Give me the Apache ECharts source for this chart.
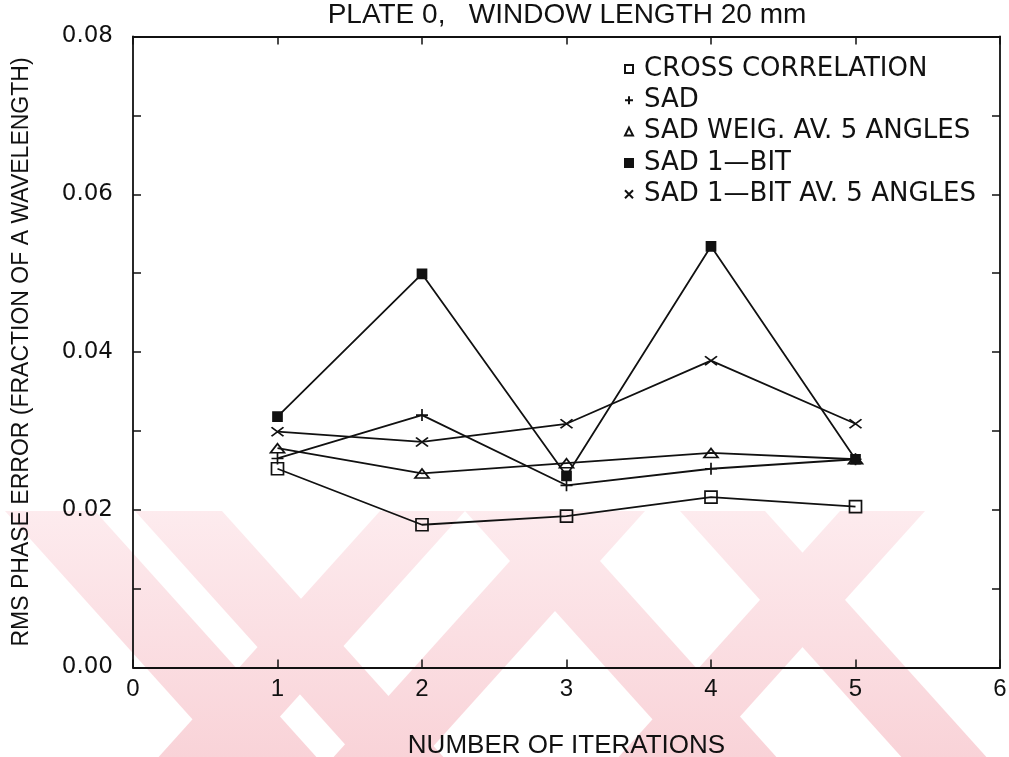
<!DOCTYPE html>
<html>
<head>
<meta charset="utf-8">
<script src="https://cdn.jsdelivr.net/npm/echarts@6/dist/echarts.min.js"></script>
<style>
  html, body { margin: 0; padding: 0; background: #fff; }
  #chart { width: 1009px; height: 757px; }
</style>
</head>
<body>
<div id="chart"></div>
<script>
// Iteration numbers on the x axis
const iterations = [1, 2, 3, 4, 5];

// RMS phase error (fraction of a wavelength) for each method
const crossCorrelation = [0.0252, 0.0181, 0.0192, 0.0216, 0.0204];
const sad              = [0.0265, 0.0320, 0.0231, 0.0252, 0.0264];
const sadWeighted5     = [0.0278, 0.0246, 0.0259, 0.0272, 0.0264];
const sad1Bit          = [0.0318, 0.0499, 0.0243, 0.0534, 0.0264];
const sad1Bit5         = [0.0299, 0.0286, 0.0309, 0.0389, 0.0309];

const seriesNames = [
  'CROSS CORRELATION',
  'SAD',
  'SAD WEIG. AV. 5 ANGLES',
  'SAD 1\u2014BIT',
  'SAD 1\u2014BIT AV. 5 ANGLES'
];

// Axis ranges and tick steps
const xRange = [0, 6];
const xStep = 1;
const yRange = [0, 0.08];
const yStep = 0.01;

const INK = '#111';
const CLEAR = 'rgba(0,0,0,0)';
const PLUS = 'path://M5 0L5 10M0 5L10 5';
const CROSS = 'path://M0 0L10 10M10 0L0 10';

const markerStyles = [
  { symbol: 'rect',     size: [12, 12], fill: CLEAR },
  { symbol: PLUS,       size: [12, 12], fill: CLEAR },
  { symbol: 'triangle', size: [14, 9],  fill: CLEAR },
  { symbol: 'rect',     size: [9, 9],   fill: INK },
  { symbol: CROSS,      size: [12, 9],  fill: CLEAR }
];
const values = [crossCorrelation, sad, sadWeighted5, sad1Bit, sad1Bit5];

const series = values.map((vals, i) => ({
  name: seriesNames[i],
  type: 'line',
  data: iterations.map((it, k) => [it, vals[k]]),
  symbol: markerStyles[i].symbol,
  symbolSize: markerStyles[i].size,
  showAllSymbol: true,
  lineStyle: { color: INK, width: 1.8 },
  itemStyle: { color: markerStyles[i].fill, borderColor: INK, borderWidth: 1.7 },
  emphasis: { disabled: true },
  z: 3
}));

// Faint pink diagonal ribbons behind the lower part of the plot
const RIBBON_TOP = 511, RIBBON_BOTTOM = 757, SLANT = 0.9;
const ribbons = [
  { x0: 5,   x1: 95,  dir: 1 },
  { x0: 135, x1: 222, dir: 1 },
  { x0: 380, x1: 465, dir: -1 },
  { x0: 465, x1: 555, dir: 1 },
  { x0: 555, x1: 645, dir: -1 },
  { x0: 680, x1: 765, dir: 1 },
  { x0: 840, x1: 925, dir: -1 }
];
const ribbonFill = new echarts.graphic.LinearGradient(0, 0, 0, 1, [
  { offset: 0, color: '#fdebee' },
  { offset: 1, color: '#f9d3d8' }
]);
const ribbonShapes = ribbons.map(r => {
  const dx = r.dir * SLANT * (RIBBON_BOTTOM - RIBBON_TOP);
  return {
    type: 'polygon',
    silent: true,
    z: -10,
    shape: { points: [[r.x0, RIBBON_TOP], [r.x1, RIBBON_TOP], [r.x1 + dx, RIBBON_BOTTOM], [r.x0 + dx, RIBBON_BOTTOM]] },
    style: { fill: ribbonFill }
  };
});

const tickStyle = { show: true, inside: true, length: 8, lineStyle: { color: INK, width: 1.5 } };
const axisLineStyle = { show: true, onZero: false, lineStyle: { color: INK, width: 1.8 } };

const chart = echarts.init(document.getElementById('chart'), null, { renderer: 'canvas' });
chart.setOption({
  animation: false,
  backgroundColor: '#fff',
  graphic: ribbonShapes,
  title: {
    text: 'PLATE 0,   WINDOW LENGTH 20 mm',
    left: 567,
    textAlign: 'center',
    top: 1,
    padding: 0,
    textStyle: { fontFamily: 'Liberation Sans', fontWeight: 'normal', fontSize: 28, color: INK }
  },
  legend: {
    orient: 'vertical',
    left: 624,
    top: 56,
    padding: 0,
    itemWidth: 8,
    itemHeight: 8,
    itemGap: 5.3,
    selectedMode: false,
    data: seriesNames.map((n, i) => ({ name: n, icon: markerStyles[i].symbol })),
    textStyle: { fontFamily: 'DejaVu Sans', fontSize: 26, lineHeight: 26, color: INK, padding: [0, 0, 0, 6] }
  },
  grid: { left: 133, right: 9, top: 36.5, bottom: 89.5, containLabel: false, outerBoundsMode: 'none' },
  xAxis: [
    {
      type: 'value', position: 'bottom', min: xRange[0], max: xRange[1], interval: xStep,
      axisLine: axisLineStyle, axisTick: tickStyle, splitLine: { show: false },
      axisLabel: { margin: 10, fontFamily: 'Liberation Sans', fontSize: 24, color: INK },
      name: 'NUMBER OF ITERATIONS', nameLocation: 'middle', nameGap: 65,
      nameTextStyle: { fontFamily: 'Liberation Sans', fontSize: 26, color: INK }
    },
    {
      type: 'value', position: 'top', min: xRange[0], max: xRange[1], interval: xStep,
      axisLine: axisLineStyle, axisTick: tickStyle, splitLine: { show: false },
      axisLabel: { show: false }
    }
  ],
  yAxis: [
    {
      type: 'value', position: 'left', min: yRange[0], max: yRange[1], interval: yStep,
      axisLine: axisLineStyle, axisTick: tickStyle, splitLine: { show: false },
      axisLabel: {
        margin: 20, fontFamily: 'DejaVu Sans', fontSize: 23, color: INK,
        formatter: v => (Math.round(v * 100) % 2 === 0 ? v.toFixed(2) : '')
      },
      name: 'RMS PHASE ERROR (FRACTION OF A WAVELENGTH)', nameLocation: 'middle', nameGap: 100,
      nameTextStyle: { fontFamily: 'Liberation Sans', fontSize: 23, color: INK }
    },
    {
      type: 'value', position: 'right', min: yRange[0], max: yRange[1], interval: yStep,
      axisLine: axisLineStyle, axisTick: tickStyle, splitLine: { show: false },
      axisLabel: { show: false }
    }
  ],
  series: series
});
</script>
</body>
</html>
